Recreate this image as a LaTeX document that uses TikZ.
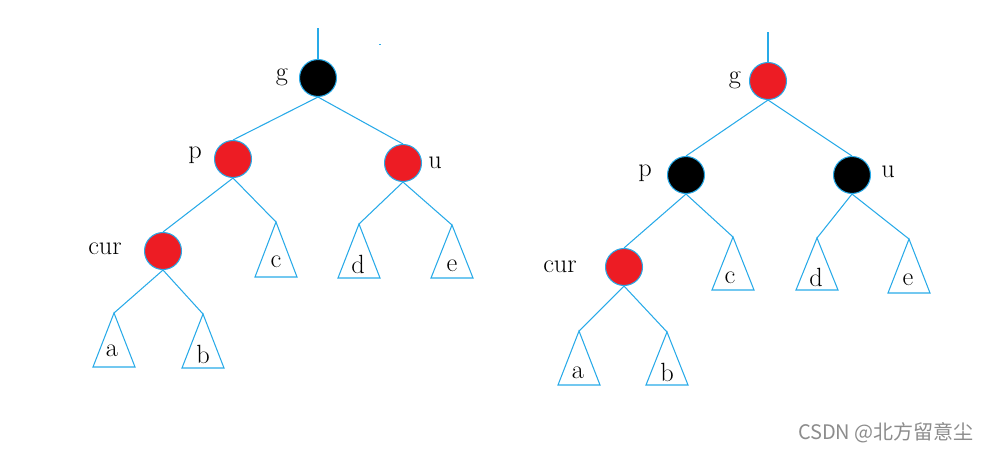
\documentclass[tikz,border=0pt]{standalone}
\usepackage{fontspec}
\newfontfamily\cjk{Noto Sans CJK SC}
\definecolor{edgeblue}{RGB}{40,170,232}
\definecolor{nodered}{RGB}{237,28,36}
\definecolor{markgray}{RGB}{140,140,140}
\tikzset{
  edge/.style={draw=edgeblue, line width=0.6pt},
  rbnode/.style={circle, draw=edgeblue, line width=0.6pt, minimum size=0.74cm, inner sep=0pt},
  rednode/.style={rbnode, fill=nodered},
  blacknode/.style={rbnode, fill=black},
  lbl/.style={inner sep=0pt, font=\fontsize{15}{18}\selectfont},
  subtree/.style={edge, line join=miter}
}
\begin{document}
\begin{tikzpicture}[x=0.02cm, y=-0.02cm]
  \useasboundingbox (0,0) rectangle (990,453);

  % left tree: before recolouring
  \coordinate (ltop) at (318,28);
  \node[blacknode] (lg) at (318,78) {};
  \node[rednode] (lp) at (233,159) {};
  \node[rednode] (lu) at (403,163) {};
  \node[rednode] (lcur) at (163,251) {};
  \coordinate (lta) at (114,313);
  \coordinate (ltb) at (203,314);
  \coordinate (ltc) at (276,222);
  \coordinate (ltd) at (359,224);
  \coordinate (lte) at (452,225);

  \draw[edge] (ltop) -- (lg.north);
  \draw[edge] (lg.south) -- (lp.north);
  \draw[edge] (lg.south) -- (lu.north);
  \draw[edge] (lp.south) -- (lcur.north);
  \draw[edge] (lp.south) -- (ltc);
  \draw[edge] (lu.south) -- (ltd);
  \draw[edge] (lu.south) -- (lte);
  \draw[edge] (lcur.south) -- (lta);
  \draw[edge] (lcur.south) -- (ltb);

  \draw[subtree] (lta) -- ++(-21,54) -- ++(42,0) -- cycle;
  \draw[subtree] (ltb) -- ++(-21,54) -- ++(42,0) -- cycle;
  \draw[subtree] (ltc) -- ++(-21,55) -- ++(42,0) -- cycle;
  \draw[subtree] (ltd) -- ++(-21,54) -- ++(42,0) -- cycle;
  \draw[subtree] (lte) -- ++(-21,53) -- ++(42,0) -- cycle;

  \node[lbl] (lgl) at (282,77) {g};
  \node[lbl] (lpl) at (195,155) {p};
  \node[lbl] (lul) at (435,163) {u};
  \node[lbl] (lcurl) at (105,249) {cur};
  \node[lbl] (lal) at (112,351) {a};
  \node[lbl] (lbl) at (203,354) {b};
  \node[lbl] (lcl) at (276,262) {c};
  \node[lbl] (ldl) at (358,264) {d};
  \node[lbl] (lel) at (452,266) {e};

  \fill[edgeblue] (378.5,43.5) rectangle (380.5,45);

  % right tree: after recolouring
  \coordinate (rtop) at (768,32);
  \node[rednode] (rg) at (768,81) {};
  \node[blacknode] (rp) at (686,175) {};
  \node[blacknode] (ru) at (852,175) {};
  \node[rednode] (rcur) at (624,267) {};
  \coordinate (rta) at (579,331);
  \coordinate (rtb) at (667,332);
  \coordinate (rtc) at (733,237);
  \coordinate (rtd) at (817,238);
  \coordinate (rte) at (909,239);

  \draw[edge] (rtop) -- (rg.north);
  \draw[edge] (rg.south) -- (rp.north);
  \draw[edge] (rg.south) -- (ru.north);
  \draw[edge] (rp.south) -- (rcur.north);
  \draw[edge] (rp.south) -- (rtc);
  \draw[edge] (ru.south) -- (rtd);
  \draw[edge] (ru.south) -- (rte);
  \draw[edge] (rcur.south) -- (rta);
  \draw[edge] (rcur.south) -- (rtb);

  \draw[subtree] (rta) -- ++(-21,54) -- ++(42,0) -- cycle;
  \draw[subtree] (rtb) -- ++(-21,53) -- ++(42,0) -- cycle;
  \draw[subtree] (rtc) -- ++(-21,53) -- ++(42,0) -- cycle;
  \draw[subtree] (rtd) -- ++(-21,52) -- ++(42,0) -- cycle;
  \draw[subtree] (rte) -- ++(-21,54) -- ++(42,0) -- cycle;

  \node[lbl] (rgl) at (735,80) {g};
  \node[lbl] (rpl) at (645,173) {p};
  \node[lbl] (rul) at (888,172) {u};
  \node[lbl] (rcurl) at (560,267) {cur};
  \node[lbl] (ral) at (578,373) {a};
  \node[lbl] (rbl) at (667,372) {b};
  \node[lbl] (rcl) at (730,278) {c};
  \node[lbl] (rdl) at (816,277) {d};
  \node[lbl] (rel) at (908,280) {e};

  \node[inner sep=0pt, text=markgray, font=\cjk\fontsize{11.4}{13}\selectfont] (mark) at (886,433) {CSDN @北方留意尘};
\end{tikzpicture}
\end{document}
